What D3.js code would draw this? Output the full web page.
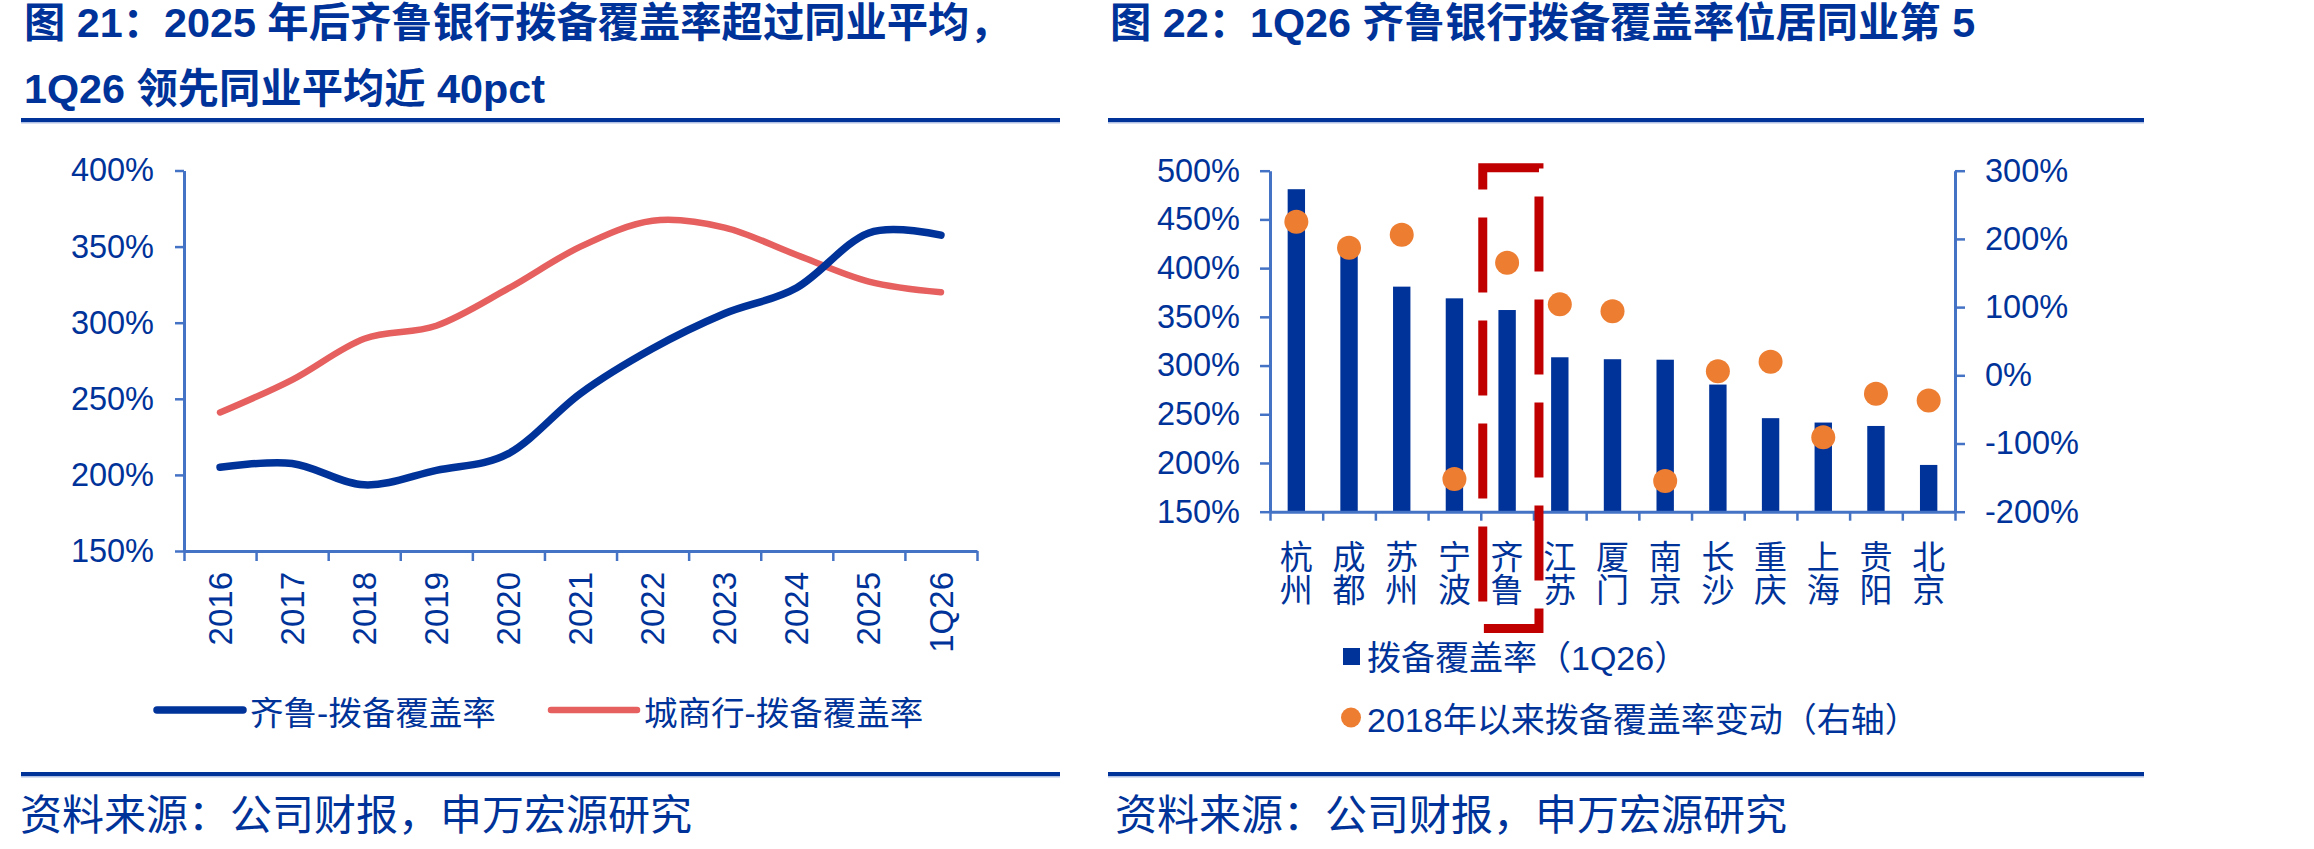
<!DOCTYPE html>
<html>
<head>
<meta charset="utf-8">
<script src="https://cdn.jsdelivr.net/npm/d3@7"></script>
<style>
  body { margin: 0; background: #fff; }
  text { font-family: "Liberation Sans", Arial, "Noto Sans CJK SC", sans-serif; }
</style>
</head>
<body>
<script>
// 图21 数据
const years = ["2016", "2017", "2018", "2019", "2020", "2021", "2022", "2023", "2024", "2025", "1Q26"];
const qiluRatio = [205, 207.5, 193.5, 203, 214, 253.5, 283, 306, 323, 359, 357.5];
const cityBankRatio = [241, 262.5, 289.5, 298, 322.5, 350, 367, 362.5, 344.5, 327, 320];
const leftTicks = [150, 200, 250, 300, 350, 400];

// 图22 数据
const cities = ["杭州", "成都", "苏州", "宁波", "齐鲁", "江苏", "厦门", "南京", "长沙", "重庆", "上海", "贵阳", "北京"];
const coverage1Q26 = [481, 415, 381, 369, 357, 308.5, 306.5, 306, 280.5, 246, 241.5, 238, 198];
const change2018 = [225, 187, 206, -152, 165, 104, 94, -155, 6, 20, -91, -27, -37];
const barTicks = [150, 200, 250, 300, 350, 400, 450, 500];
const changeTicks = [-200, -100, 0, 100, 200, 300];

const navy = "#003399";
const axisBlue = "#4472C4";
const salmon = "#E5605F";
const orange = "#ED7D31";

const svg = d3.select("body").append("svg")
    .attr("width", 2314)
    .attr("height", 849);

// **标题**
svg.append("text").attr("x", 24).attr("y", 37)
    .attr("font-size", "41.3px").attr("font-weight", "bold").attr("fill", navy)
    .text("图 21：2025 年后齐鲁银行拨备覆盖率超过同业平均，");
svg.append("text").attr("x", 24).attr("y", 103)
    .attr("font-size", "41.3px").attr("font-weight", "bold").attr("fill", navy)
    .text("1Q26 领先同业平均近 40pct");
svg.append("text").attr("x", 1110).attr("y", 37)
    .attr("font-size", "41.3px").attr("font-weight", "bold").attr("fill", navy)
    .text("图 22：1Q26 齐鲁银行拨备覆盖率位居同业第 5");

// **分隔线**
[[21, 1060], [1108, 2144]].forEach(([x0, x1]) => {
    [118, 772].forEach(y => {
        svg.append("rect").attr("x", x0).attr("y", y).attr("width", x1 - x0).attr("height", 4).attr("fill", navy);
        svg.append("rect").attr("x", x0).attr("y", y + 4).attr("width", x1 - x0).attr("height", 1.5).attr("fill", "#AFC0E4");
    });
});

// **资料来源**
svg.append("text").attr("x", 20).attr("y", 830)
    .attr("font-size", "42px").attr("fill", navy)
    .text("资料来源：公司财报，申万宏源研究");
svg.append("text").attr("x", 1115).attr("y", 830)
    .attr("font-size", "42px").attr("fill", navy)
    .text("资料来源：公司财报，申万宏源研究");

function styleAxis(g) {
    g.select(".domain").attr("stroke", axisBlue).attr("stroke-width", 3);
    g.selectAll(".tick line").attr("stroke", axisBlue).attr("stroke-width", 2.5);
    g.selectAll(".tick text").attr("fill", navy).attr("font-size", "32.5px")
        .attr("font-family", "'Liberation Sans', Arial, sans-serif");
}

// ================= 图21 折线 =================
const xL = d3.scaleBand().domain(years).range([184, 977]);
const yL = d3.scaleLinear().domain([150, 400]).range([551, 170.5]);
const xLEdge = d3.scaleLinear().domain([0, years.length]).range(xL.range());

svg.append("g")
    .attr("transform", "translate(184,0)")
    .call(d3.axisLeft(yL).tickValues(leftTicks).tickSize(9).tickSizeOuter(0).tickPadding(21).tickFormat(d => d + "%"))
    .call(styleAxis);

svg.append("g")
    .attr("transform", "translate(0,551)")
    .call(d3.axisBottom(xLEdge).tickValues(d3.range(years.length + 1)).tickSize(10).tickSizeOuter(0).tickFormat(""))
    .call(styleAxis);

svg.append("g").selectAll("text")
    .data(years)
    .enter()
    .append("text")
    .attr("transform", d => `translate(${xL(d) + xL.bandwidth() / 2},572) rotate(-90)`)
    .attr("text-anchor", "end")
    .attr("dy", "0.35em")
    .attr("font-size", "33px")
    .attr("fill", navy)
    .text(d => d);

const line = d3.line()
    .x((d, i) => xL(years[i]) + xL.bandwidth() / 2)
    .y(d => yL(d))
    .curve(d3.curveCardinal.tension(0));

svg.append("path").datum(cityBankRatio)
    .attr("d", line).attr("fill", "none")
    .attr("stroke", salmon).attr("stroke-width", 6.5).attr("stroke-linecap", "round");
svg.append("path").datum(qiluRatio)
    .attr("d", line).attr("fill", "none")
    .attr("stroke", navy).attr("stroke-width", 7.5).attr("stroke-linecap", "round");

// 图例
const legendL = [
    { label: "齐鲁-拨备覆盖率", color: navy, x: 157, w: 7.5 },
    { label: "城商行-拨备覆盖率", color: salmon, x: 551, w: 6.5 }
];
legendL.forEach(d => {
    svg.append("line").attr("x1", d.x).attr("x2", d.x + 86).attr("y1", 710).attr("y2", 710)
        .attr("stroke", d.color).attr("stroke-width", d.w).attr("stroke-linecap", "round");
    svg.append("text").attr("x", d.x + 93).attr("y", 725)
        .attr("font-size", "33.5px").attr("fill", navy).text(d.label);
});

// ================= 图22 柱+散点 =================
const xR = d3.scaleBand().domain(cities).range([1270, 1955]);
const yBar = d3.scaleLinear().domain([150, 500]).range([511.7, 170.7]);
const yChg = d3.scaleLinear().domain([-200, 300]).range([511.7, 170.7]);
const xREdge = d3.scaleLinear().domain([0, cities.length]).range(xR.range());

svg.append("g")
    .attr("transform", "translate(1270,0)")
    .call(d3.axisLeft(yBar).tickValues(barTicks).tickSize(10).tickSizeOuter(0).tickPadding(20).tickFormat(d => d + "%"))
    .call(styleAxis);

svg.append("g")
    .attr("transform", "translate(1955,0)")
    .call(d3.axisRight(yChg).tickValues(changeTicks).tickSize(10).tickSizeOuter(0).tickPadding(20).tickFormat(d => d + "%"))
    .call(styleAxis);

const barW = xR.bandwidth() * 0.33;
svg.append("g").selectAll("rect")
    .data(coverage1Q26)
    .enter()
    .append("rect")
    .attr("x", (d, i) => xR(cities[i]) + (xR.bandwidth() - barW) / 2)
    .attr("y", d => yBar(d))
    .attr("width", barW)
    .attr("height", d => yBar(150) - yBar(d))
    .attr("fill", navy);

svg.append("g")
    .attr("transform", "translate(0,511.7)")
    .call(d3.axisBottom(xREdge).tickValues(d3.range(cities.length + 1)).tickSize(9).tickSizeOuter(0).tickFormat(""))
    .call(styleAxis);

svg.append("g").selectAll("circle")
    .data(change2018)
    .enter()
    .append("circle")
    .attr("cx", (d, i) => xR(cities[i]) + xR.bandwidth() / 2)
    .attr("cy", d => yChg(d))
    .attr("r", 12)
    .attr("fill", orange);

// 城市标签（竖排两字）
const cityLabels = svg.append("g").selectAll("g")
    .data(cities)
    .enter()
    .append("g");
cityLabels.append("text")
    .attr("x", d => xR(d) + xR.bandwidth() / 2).attr("y", 569)
    .attr("text-anchor", "middle").attr("font-size", "33px").attr("fill", navy)
    .text(d => d[0]);
cityLabels.append("text")
    .attr("x", d => xR(d) + xR.bandwidth() / 2).attr("y", 602)
    .attr("text-anchor", "middle").attr("font-size", "33px").attr("fill", navy)
    .text(d => d[1]);

// 齐鲁红色虚线框
svg.append("rect")
    .attr("x", xR("齐鲁") + 2)
    .attr("y", yBar(503))
    .attr("width", xR.bandwidth() + 3.5)
    .attr("height", 628.5 - yBar(503))
    .attr("fill", "none")
    .attr("stroke", "#C00000")
    .attr("stroke-width", 9)
    .attr("stroke-dasharray", "75 28")
    .attr("stroke-dashoffset", 18);

// 图例
svg.append("rect").attr("x", 1343).attr("y", 648).attr("width", 17).attr("height", 17).attr("fill", navy);
svg.append("text").attr("x", 1367).attr("y", 670)
    .attr("font-size", "34px").attr("fill", navy).text("拨备覆盖率（1Q26）");
svg.append("circle").attr("cx", 1351).attr("cy", 717.5).attr("r", 10).attr("fill", orange);
svg.append("text").attr("x", 1367).attr("y", 732)
    .attr("font-size", "34px").attr("fill", navy).text("2018年以来拨备覆盖率变动（右轴）");
</script>
</body>
</html>
